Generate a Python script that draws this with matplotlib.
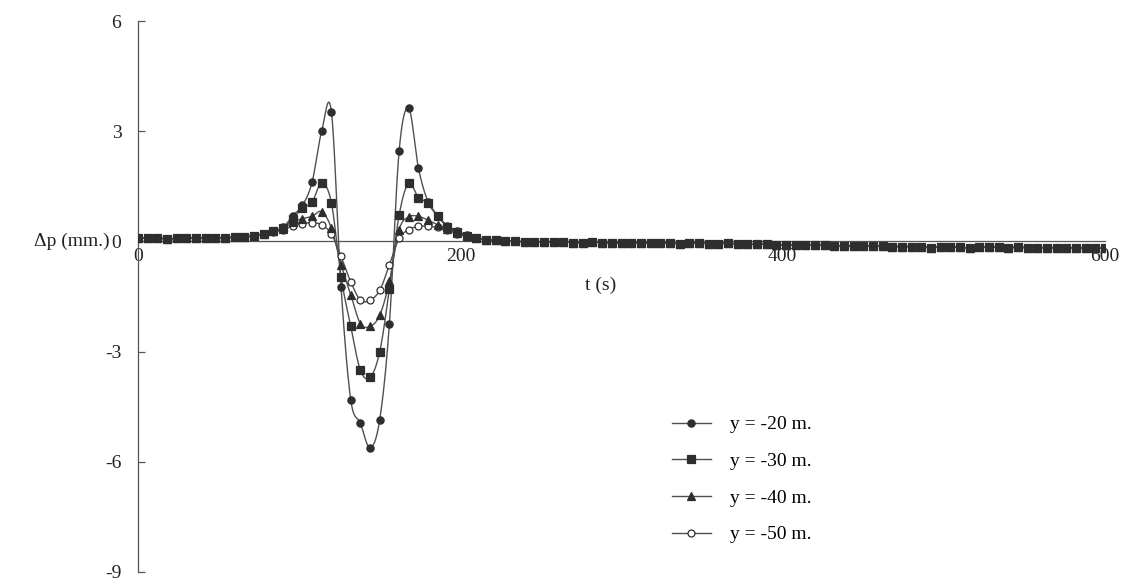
import numpy as np
import matplotlib
matplotlib.use("Agg")
import matplotlib.pyplot as plt

plt.rcParams['font.family'] = ['Liberation Serif', 'DejaVu Serif']

# sampling grid (s)
time_step = 6
t = np.arange(0, 601, time_step)

# shared readings before the disturbance, t = 0 ... 66 s
lead = [0.09, 0.09, 0.09, 0.07, 0.08, 0.08, 0.09, 0.09, 0.09, 0.10, 0.11, 0.12]

# readings through the disturbance, t = 72 ... 204 s
mid_20 = [0.16, 0.21, 0.29, 0.38, 0.70, 0.98, 1.61, 3.01, 3.53, -1.25, -4.31, -4.95,
          -5.62, -4.85, -2.24, 2.45, 3.62, 2.00, 1.07, 0.70, 0.43, 0.29, 0.17]
mid_30 = [0.16, 0.21, 0.28, 0.36, 0.62, 0.90, 1.07, 1.59, 1.05, -0.97, -2.31, -3.51,
          -3.70, -3.00, -1.29, 0.71, 1.59, 1.19, 1.05, 0.68, 0.40, 0.26, 0.15]
mid_40 = [0.15, 0.20, 0.27, 0.34, 0.52, 0.62, 0.68, 0.81, 0.36, -0.63, -1.45, -2.24,
          -2.31, -2.01, -1.09, 0.32, 0.67, 0.68, 0.58, 0.45, 0.34, 0.24, 0.14]
mid_50 = [0.14, 0.19, 0.25, 0.32, 0.42, 0.48, 0.51, 0.45, 0.20, -0.41, -1.10, -1.60,
          -1.60, -1.33, -0.64, 0.08, 0.32, 0.41, 0.41, 0.38, 0.30, 0.21, 0.13]

# shared readings after the disturbance, t = 210 ... 600 s
tail = [0.08, 0.05, 0.03, 0.01, 0.00, -0.01, -0.01, -0.02, -0.02, -0.02,
        -0.03, -0.03, -0.02, -0.03, -0.04, -0.04, -0.03, -0.04, -0.05, -0.04,
        -0.05, -0.06, -0.05, -0.05, -0.06, -0.06, -0.05, -0.07, -0.08, -0.08,
        -0.07, -0.10, -0.09, -0.10, -0.10, -0.11, -0.10, -0.12, -0.12, -0.13,
        -0.12, -0.13, -0.13, -0.14, -0.14, -0.14, -0.15, -0.17, -0.15, -0.15,
        -0.16, -0.18, -0.16, -0.16, -0.16, -0.17, -0.16, -0.17, -0.17, -0.17,
        -0.17, -0.18, -0.18, -0.18, -0.18, -0.19]

labels = ['y = -20 m.', 'y = -30 m.', 'y = -40 m.', 'y = -50 m.']
mids = [mid_20, mid_30, mid_40, mid_50]
markers = ['o', 's', '^', 'o']
filled = [True, True, True, False]
msizes = [5.2, 5.6, 5.6, 5.0]
draw_order = [3, 2, 0, 1]

x_ticks = [0, 200, 400, 600]
y_ticks = [6, 3, 0, -3, -6, -9]

LINE = '#505050'
MARK = '#2e2e2e'


def smooth_curve(x, y, n=10):
    """Catmull-Rom curve through the sample points."""
    x = np.asarray(x, float)
    y = np.asarray(y, float)
    px = np.concatenate([[2 * x[0] - x[1]], x, [2 * x[-1] - x[-2]]])
    py = np.concatenate([[2 * y[0] - y[1]], y, [2 * y[-1] - y[-2]]])
    s = np.linspace(0, 1, n, endpoint=False)
    xs, ys = [], []
    for i in range(1, len(px) - 2):
        for arr, out in ((px, xs), (py, ys)):
            p0, p1, p2, p3 = arr[i - 1], arr[i], arr[i + 1], arr[i + 2]
            out.extend(0.5 * ((2 * p1) + (-p0 + p2) * s
                              + (2 * p0 - 5 * p1 + 4 * p2 - p3) * s ** 2
                              + (-p0 + 3 * p1 - 3 * p2 + p3) * s ** 3))
    xs.append(x[-1])
    ys.append(y[-1])
    return np.array(xs), np.array(ys)


fig = plt.figure(figsize=(11.32, 5.82), dpi=100)
ax = fig.add_axes([138 / 1132, 10 / 582, (1105 - 138) / 1132, (572 - 21) / 582])

handles = [None] * 4
for layer, k in enumerate(draw_order):
    values = np.array(lead + mids[k] + tail)
    sx, sy = smooth_curve(t, values)
    ax.plot(sx, sy, color=LINE, lw=1.0, zorder=3 + layer * 0.1)
    ax.plot(t, values, ls='none', marker=markers[k], ms=msizes[k],
            mfc=MARK if filled[k] else 'white', mec=MARK, mew=0.9,
            zorder=4 + layer * 0.1)
    handles[k] = plt.Line2D([], [], color=LINE, lw=1.0, marker=markers[k],
                            ms=msizes[k], mfc=MARK if filled[k] else 'white',
                            mec=MARK, mew=0.9)

ax.set_xlim(0, 600)
ax.set_ylim(-9, 6)
ax.spines['left'].set_position(('data', 0))
ax.spines['bottom'].set_position(('data', 0))
for side in ('top', 'right'):
    ax.spines[side].set_visible(False)
for side in ('left', 'bottom'):
    ax.spines[side].set_color('#555555')
    ax.spines[side].set_linewidth(0.9)

ax.set_xticks(x_ticks)
ax.set_xticklabels([str(v) for v in x_ticks])
ax.set_yticks(y_ticks)
ax.set_yticklabels([str(v) for v in y_ticks])
ax.tick_params(axis='x', length=0, pad=4.5, labelsize=14, colors='#222222')
ax.tick_params(axis='y', direction='in', length=5, width=0.9, pad=12,
               labelsize=14, colors='#222222', color='#555555')

fig.text(110 / 1132, 1 - 241 / 582, 'Δp (mm.)', ha='right', va='center',
         fontsize=14, color='#222222')
ax.text(287, -1.2, 't (s)', ha='center', va='center', fontsize=14, color='#222222')

ax.legend(handles, labels, loc='upper left', bbox_to_anchor=(662 / 1132, 1 - 406 / 582),
          bbox_transform=fig.transFigure, frameon=False, fontsize=14,
          handlelength=2.0, handletextpad=1.0, labelspacing=0.98, borderpad=0)

fig.savefig('out.png', dpi=100, facecolor='white')
